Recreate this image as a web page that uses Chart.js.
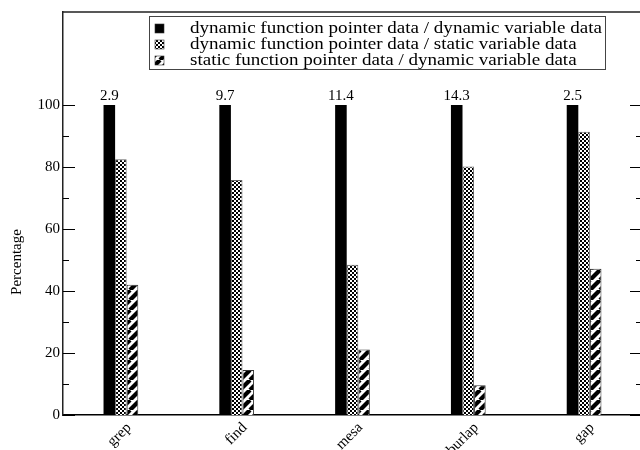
<!DOCTYPE html>
<html>
<head>
<meta charset="utf-8">
<script src="https://cdn.jsdelivr.net/npm/chart.js@4.4.1/dist/chart.umd.min.js"></script>
<style>
html,body{margin:0;padding:0;background:#fff;overflow:hidden;}
#wrap{width:650px;height:450px;position:relative;}
</style>
</head>
<body>
<div id="wrap"><canvas id="c"></canvas></div>
<script>
const categories = ['grep','find','mesa','burlap','gap'];
const seriesNames = [
  'dynamic function pointer data / dynamic variable data',
  'dynamic function pointer data / static variable data',
  'static function pointer data / dynamic variable data'
];
const dynDyn = [100, 100, 100, 100, 100];
const dynStat = [82.5, 75.8, 48.5, 80.2, 91.4];
const statDyn = [42.0, 14.5, 21.1, 9.6, 47.2];
const topLabels = ['2.9','9.7','11.4','14.3','2.5'];
const yTicks = [0,10,20,30,40,50,60,70,80,90,100];

const FONT = '"Liberation Serif","Times New Roman",serif';

function checker(){
  const c=document.createElement('canvas');c.width=4;c.height=4;
  const g=c.getContext('2d');g.fillStyle='#fff';g.fillRect(0,0,4,4);
  g.fillStyle='#000';g.fillRect(0,0,2,2);g.fillRect(2,2,2,2);
  return g.createPattern(c,'repeat');
}
function stripes(){
  const s=10;
  const c=document.createElement('canvas');c.width=s;c.height=s;
  const g=c.getContext('2d');g.fillStyle='#fff';g.fillRect(0,0,s,s);
  g.strokeStyle='#000';g.lineWidth=4.2;
  for(const k of [-s,0,s]){g.beginPath();g.moveTo(k,s);g.lineTo(k+s,0);g.stroke();}
  return g.createPattern(c,'repeat');
}
const fills=['#000',checker(),stripes()];

const decor={
  id:'decor',
  afterDraw(chart){
    const ctx=chart.ctx, a=chart.chartArea, y=chart.scales.y;
    ctx.save();
    ctx.strokeStyle='#222';ctx.lineWidth=1.5;
    ctx.beginPath();ctx.moveTo(a.left,a.top);ctx.lineTo(a.right,a.top);ctx.lineTo(a.right,a.bottom);ctx.stroke();
    ctx.lineWidth=1.2;ctx.strokeStyle='#000';
    yTicks.forEach(v=>{
      const py=Math.round(y.getPixelForValue(v))+0.5;
      const L=(v%20===0)?12:6;
      ctx.beginPath();ctx.moveTo(a.left,py);ctx.lineTo(a.left+L,py);
      ctx.moveTo(a.right,py);ctx.lineTo(a.right-L,py);ctx.stroke();
    });
    // value labels
    ctx.fillStyle='#000';ctx.font='15px '+FONT;ctx.textAlign='center';ctx.textBaseline='bottom';
    chart.getDatasetMeta(0).data.forEach((b,i)=>{ctx.fillText(topLabels[i],b.x,b.y-1);});
    // y title
    ctx.save();ctx.translate(17,262);ctx.rotate(-Math.PI/2);ctx.textBaseline='middle';ctx.font='15px '+FONT;
    ctx.fillText('Percentage',0,0);ctx.restore();
    // legend
    const lx=149, ly=16, lw=456, lh=53;
    ctx.fillStyle='#fff';ctx.fillRect(lx,ly,lw,lh);
    ctx.strokeStyle='#444';ctx.lineWidth=1;ctx.strokeRect(lx+0.5,ly+0.5,lw,lh);
    ctx.font='16.5px '+FONT;ctx.textAlign='left';ctx.textBaseline='middle';
    const w0=ctx.measureText(chart.data.datasets[0].label).width;
    const sx=412/w0;
    chart.data.datasets.forEach((ds,i)=>{
      const cy=28+i*16;
      ctx.fillStyle=ds.backgroundColor;ctx.fillRect(155,cy-4,9,9);
      ctx.strokeStyle='#333';ctx.lineWidth=0.6;ctx.strokeRect(155,cy-4,9,9);
      ctx.save();ctx.translate(190,cy+1);ctx.scale(sx,1);
      ctx.fillStyle='#000';ctx.fillText(ds.label,0,0);ctx.restore();
    });
    ctx.restore();
  }
};

new Chart(document.getElementById('c'),{
  type:'bar',
  data:{
    labels:categories,
    datasets:[
      {label:seriesNames[0],data:dynDyn,backgroundColor:fills[0],borderColor:'#000',borderWidth:0},
      {label:seriesNames[1],data:dynStat,backgroundColor:fills[1],borderColor:'#666',borderWidth:1},
      {label:seriesNames[2],data:statDyn,backgroundColor:fills[2],borderColor:'#333',borderWidth:1}
    ]
  },
  options:{
    responsive:true,maintainAspectRatio:false,animation:false,
    layout:{padding:{top:10,right:8,left:0,bottom:0}},
    plugins:{legend:{display:false},tooltip:{enabled:false}},
    datasets:{bar:{barPercentage:1,categoryPercentage:0.30}},
    scales:{
      x:{
        grid:{display:false,drawTicks:false},
        border:{display:true,color:'#000',width:1.5},
        ticks:{color:'#000',font:{family:FONT,size:15},minRotation:45,maxRotation:45,padding:4,labelOffset:8},
        afterFit(s){s.height=35;}
      },
      y:{
        min:0,max:130,
        grid:{display:false,drawTicks:false},
        border:{display:true,color:'#222',width:1.5},
        afterBuildTicks(s){s.ticks=[0,20,40,60,80,100].map(v=>({value:v}));},
        ticks:{color:'#000',font:{family:FONT,size:15},padding:3},
        afterFit(s){s.width=63;}
      }
    }
  },
  plugins:[decor]
});
</script>
</body>
</html>
